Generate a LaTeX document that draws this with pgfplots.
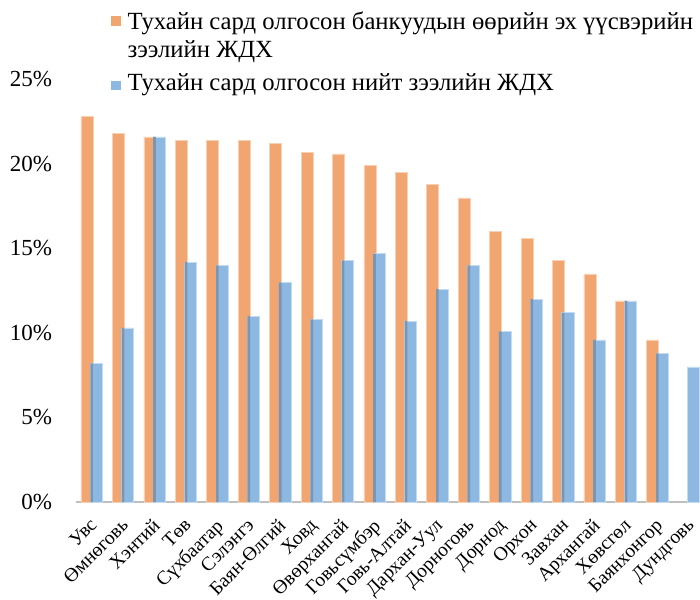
\documentclass[border=0pt]{standalone}
\usepackage{pgfplots}
\pgfplotsset{compat=1.18}
\usepackage{fontspec}
\setmainfont{Liberation Serif}
\begin{document}
\begin{tikzpicture}
    \definecolor{orangebar}{RGB}{241,165,113}
    \definecolor{orangeedge}{RGB}{248,208,180}
    \definecolor{bluebar}{RGB}{141,184,225}
    \definecolor{blueedge}{RGB}{196,220,242}
    \definecolor{shadowbar}{RGB}{124,150,178}
    \definecolor{axisgray}{RGB}{191,191,191}
    \useasboundingbox (-75.93pt,-97pt) rectangle (624.07pt,502pt);

    \begin{axis}[
        name=ax,
        at={(0pt,0pt)}, anchor=south west,
        scale only axis,
        width=624.07pt, height=422.5pt,
        xmin=-0.5, xmax=19.356,
        ymin=0, ymax=25,
        axis x line*=bottom, axis y line*=left,
        y axis line style={draw=none},
        x axis line style={axisgray, line width=2pt},
        major tick length=0pt,
        xtick={0,...,19},
        xticklabels={Увс, Өмнөговь, Хэнтий, Төв, Сүхбаатар, Сэлэнгэ, Баян-Өлгий, Ховд, Өвөрхангай, Говьсүмбэр, Говь-Алтай, Дархан-Уул, Дорноговь, Дорнод, Орхон, Завхан, Архангай, Хөвсгөл, Баянхонгор, Дундговь},
        x tick label style={xshift=-3pt, yshift=-15pt, rotate=45, anchor=north east, inner sep=0pt, font=\fontsize{19.5}{22}\selectfont},
        ytick={0,5,10,15,20,25},
        yticklabels={0\%, 5\%, 10\%, 15\%, 20\%, 25\%},
        y tick label style={anchor=east, inner sep=0pt, xshift=-23.6pt, font=\fontsize{23}{26}\selectfont},
    ]
        % orange: own-source loans
        \addplot[ybar, bar width=12pt, bar shift=-4.65pt, fill=orangebar, draw=orangeedge, line width=0.5pt]
        coordinates {
            (0,22.8) (1,21.8) (2,21.6) (3,21.4) (4,21.4) (5,21.4) (6,21.2) (7,20.7) (8,20.6) (9,19.9)
            (10,19.5) (11,18.8) (12,18.0) (13,16.0) (14,15.6) (15,14.3) (16,13.5) (17,11.9) (18,9.6)
        };

        % blue: total loans
        \addplot[ybar, bar width=12pt, bar shift=4.65pt, fill=bluebar, draw=blueedge, line width=0.5pt]
        coordinates {
            (0,8.2) (1,10.3) (2,21.6) (3,14.2) (4,14.0) (5,11.0) (6,13.0) (7,10.8) (8,14.3) (9,14.7)
            (10,10.7) (11,12.6) (12,14.0) (13,10.1) (14,12.0) (15,11.2) (16,9.6) (17,11.9) (18,8.8) (19,8.0)
        };

        % shadow where the bars overlap
        \addplot[ybar, bar width=2.7pt, bar shift=0pt, fill=shadowbar, draw=none]
        coordinates {
            (0,8.2) (1,10.3) (2,21.6) (3,14.2) (4,14.0) (5,11.0) (6,13.0) (7,10.8) (8,14.3) (9,14.7)
            (10,10.7) (11,12.6) (12,14.0) (13,10.1) (14,12.0) (15,11.2) (16,9.6) (17,11.9) (18,8.8)
        };
    \end{axis}

    % legend
    \node[anchor=north west, inner sep=0pt, xshift=35pt, yshift=70pt,
          font=\fontsize{24.7}{28}\selectfont]
        at (ax.north west) {%
        \begin{tabular}{@{}l@{\hspace{7pt}}l@{}}
            \textcolor{orangebar}{\rule[3.5pt]{9.5pt}{9.5pt}} & Тухайн сард олгосон банкуудын өөрийн эх үүсвэрийн\\
             & зээлийн ЖДХ\\[5pt]
            \textcolor{bluebar}{\rule[0pt]{9.5pt}{9.5pt}} & Тухайн сард олгосон нийт зээлийн ЖДХ
        \end{tabular}};
\end{tikzpicture}
\end{document}
